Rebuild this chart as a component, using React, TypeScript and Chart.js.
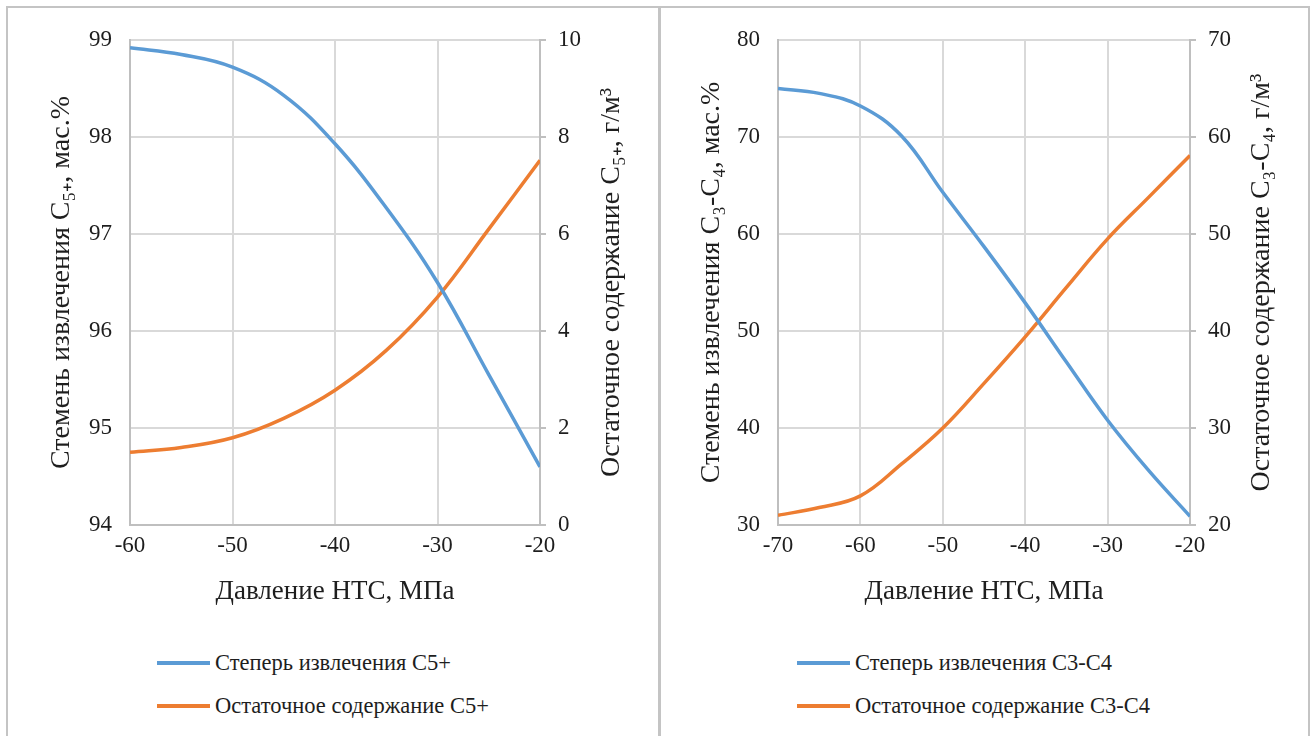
import React, { useEffect, useRef } from "react";
import { Chart, registerables } from "chart.js";

Chart.register(...registerables);

// ---- Data ----
const leftPressure = [-60, -55, -50, -45, -40, -35, -30, -25, -20];
const leftRecovery = [98.92, 98.85, 98.72, 98.43, 97.93, 97.27, 96.5, 95.55, 94.6];
const leftResidual = [1.5, 1.6, 1.8, 2.2, 2.78, 3.6, 4.7, 6.1, 7.52];

const rightPressure = [-70, -65, -60, -55, -50, -45, -40, -35, -30, -25, -20];
const rightRecovery = [75, 74.5, 73.2, 70.1, 64.3, 58.7, 52.9, 46.8, 40.8, 35.6, 30.9];
const rightResidual = [21, 21.8, 23.0, 26.3, 30.0, 34.6, 39.4, 44.5, 49.5, 53.8, 58.1];

const xTitle = "Давление НТС, МПа";
const leftYTitle1 = "Стемень извлечения C₅₊, мас.%";
const leftYTitle2 = "Остаточное содержание C₅₊, г/м³";
const rightYTitle1 = "Стемень извлечения C₃-C₄, мас.%";
const rightYTitle2 = "Остаточное содержание C₃-C₄, г/м³";
const leftLegend = ["Степерь извлечения C5+", "Остаточное содержание C5+"];
const rightLegend = ["Степерь извлечения C3-C4", "Остаточное содержание C3-C4"];

const BLUE = "#5b9bd5";
const ORANGE = "#ed7d31";
const GRID = "#d9d9d9";
const AXIS = "#bfbfbf";
const TEXT = "#1e1e1e";
const FONT = "Liberation Serif";
const TICK_SIZE = 23;
const TITLE_SIZE = 27;
const YTITLE_SIZE = 28;
const LEGEND_SIZE = 22.5;

const rightTitlePlugin = {
  id: "rightTitle",
  afterDraw(chart: any, _args: any, opts: any) {
    const { ctx, chartArea } = chart;
    ctx.save();
    ctx.translate(opts.x, (chartArea.top + chartArea.bottom) / 2);
    ctx.rotate(-Math.PI / 2);
    ctx.font = `${opts.size}px ${FONT}`;
    ctx.fillStyle = TEXT;
    ctx.textAlign = "center";
    ctx.textBaseline = "middle";
    ctx.fillText(opts.text, 0, 0);
    ctx.restore();
  },
};

type PanelProps = {
  pressure: number[];
  recovery: number[];
  residual: number[];
  xMin: number;
  yL: { min: number; max: number; step: number };
  yR: { min: number; max: number; step: number };
  yTitleL: string;
  yTitleR: string;
  leftW: number;
  rightW: number;
  titlePadL: number;
  titleXR: number;
  canvasLeft: number;
  canvasW: number;
  labels: string[];
};

function ChartCanvas(p: PanelProps) {
  const ref = useRef<HTMLCanvasElement | null>(null);
  useEffect(() => {
    if (!ref.current) return;
    const chart = new Chart(ref.current, {
      type: "line",
      data: {
        datasets: [
          {
            label: p.labels[0],
            data: p.pressure.map((x, i) => ({ x, y: p.recovery[i] })),
            borderColor: BLUE,
            backgroundColor: BLUE,
            borderWidth: 3.5,
            pointRadius: 0,
            tension: 0.4,
            yAxisID: "yL",
          },
          {
            label: p.labels[1],
            data: p.pressure.map((x, i) => ({ x, y: p.residual[i] })),
            borderColor: ORANGE,
            backgroundColor: ORANGE,
            borderWidth: 3.5,
            pointRadius: 0,
            tension: 0.4,
            yAxisID: "yR",
          },
        ],
      },
      options: {
        responsive: false,
        animation: false,
        devicePixelRatio: 1,
        layout: { padding: { top: 32, left: 0, right: 0, bottom: 0 } },
        plugins: {
          legend: { display: false },
          tooltip: { enabled: false },
          rightTitle: { x: p.titleXR, text: p.yTitleR, size: YTITLE_SIZE },
        } as any,
        scales: {
          x: {
            type: "linear",
            min: p.xMin,
            max: -20,
            ticks: { stepSize: 10, padding: 7, color: TEXT, font: { family: FONT, size: TICK_SIZE } },
            grid: { color: GRID, lineWidth: 2, drawTicks: false },
            border: { color: AXIS, width: 2 },
            title: {
              display: true,
              text: xTitle,
              color: TEXT,
              font: { family: FONT, size: TITLE_SIZE },
              padding: { top: 0, bottom: 20 },
            },
            afterFit: (s: any) => {
              s.height = 103;
            },
          },
          yL: {
            type: "linear",
            position: "left",
            min: p.yL.min,
            max: p.yL.max,
            ticks: { stepSize: p.yL.step, padding: 18, color: TEXT, font: { family: FONT, size: TICK_SIZE } },
            grid: { color: GRID, lineWidth: 2, drawTicks: false },
            border: { color: AXIS, width: 2 },
            title: {
              display: true,
              text: p.yTitleL,
              color: TEXT,
              font: { family: FONT, size: YTITLE_SIZE },
              padding: { top: p.titlePadL, bottom: 0 },
            },
            afterFit: (s: any) => {
              s.width = p.leftW;
            },
          },
          yR: {
            type: "linear",
            position: "right",
            min: p.yR.min,
            max: p.yR.max,
            ticks: { stepSize: p.yR.step, padding: 12, color: TEXT, font: { family: FONT, size: TICK_SIZE } },
            grid: { color: AXIS, lineWidth: 2, drawOnChartArea: false, drawTicks: true, tickLength: 6 },
            border: { color: AXIS, width: 2 },
            afterFit: (s: any) => {
              s.width = p.rightW;
            },
          },
        },
      } as any,
      plugins: [rightTitlePlugin as any],
    });
    return () => chart.destroy();
  }, []);
  return (
    <canvas
      ref={ref}
      width={p.canvasW}
      height={620}
      style={{ position: "absolute", left: p.canvasLeft, top: 8, width: p.canvasW, height: 620 }}
    />
  );
}

function Legend({ left, labels }: { left: number; labels: string[] }) {
  const colors = [BLUE, ORANGE];
  const tops = [663, 706];
  return (
    <>
      {labels.map((t, i) => (
        <div
          key={t}
          style={{
            position: "absolute",
            left,
            top: tops[i] - 15,
            height: 30,
            display: "flex",
            alignItems: "center",
            fontFamily: FONT,
            fontSize: LEGEND_SIZE,
            color: TEXT,
            whiteSpace: "nowrap",
          }}
        >
          <span style={{ display: "inline-block", width: 53, height: 3.5, background: colors[i], marginRight: 5 }} />
          <span>{t}</span>
        </div>
      ))}
    </>
  );
}

export default function App() {
  return (
    <div
      style={{
        position: "absolute",
        left: 0,
        top: 0,
        width: 1311,
        height: 736,
        overflow: "hidden",
        background: "#ffffff",
      }}
    >
      <div
        style={{
          position: "absolute",
          left: 6,
          top: 6,
          width: 654,
          height: 780,
          boxSizing: "border-box",
          border: "2px solid #c4c4c4",
        }}
      />
      <div
        style={{
          position: "absolute",
          left: 659,
          top: 6,
          width: 651,
          height: 780,
          boxSizing: "border-box",
          border: "2px solid #c4c4c4",
        }}
      />
      <ChartCanvas
        pressure={leftPressure}
        recovery={leftRecovery}
        residual={leftResidual}
        xMin={-60}
        yL={{ min: 94, max: 99, step: 1 }}
        yR={{ min: 0, max: 10, step: 2 }}
        yTitleL={leftYTitle1}
        yTitleR={leftYTitle2}
        leftW={122}
        rightW={118}
        titlePadL={37}
        titleXR={604}
        canvasLeft={8}
        canvasW={650}
        labels={leftLegend}
      />
      <ChartCanvas
        pressure={rightPressure}
        recovery={rightRecovery}
        residual={rightResidual}
        xMin={-70}
        yL={{ min: 30, max: 80, step: 10 }}
        yR={{ min: 20, max: 70, step: 10 }}
        yTitleL={rightYTitle1}
        yTitleR={rightYTitle2}
        leftW={117}
        rightW={118}
        titlePadL={34}
        titleXR={601}
        canvasLeft={661}
        canvasW={647}
        labels={rightLegend}
      />
      <Legend left={157} labels={leftLegend} />
      <Legend left={797} labels={rightLegend} />
    </div>
  );
}
